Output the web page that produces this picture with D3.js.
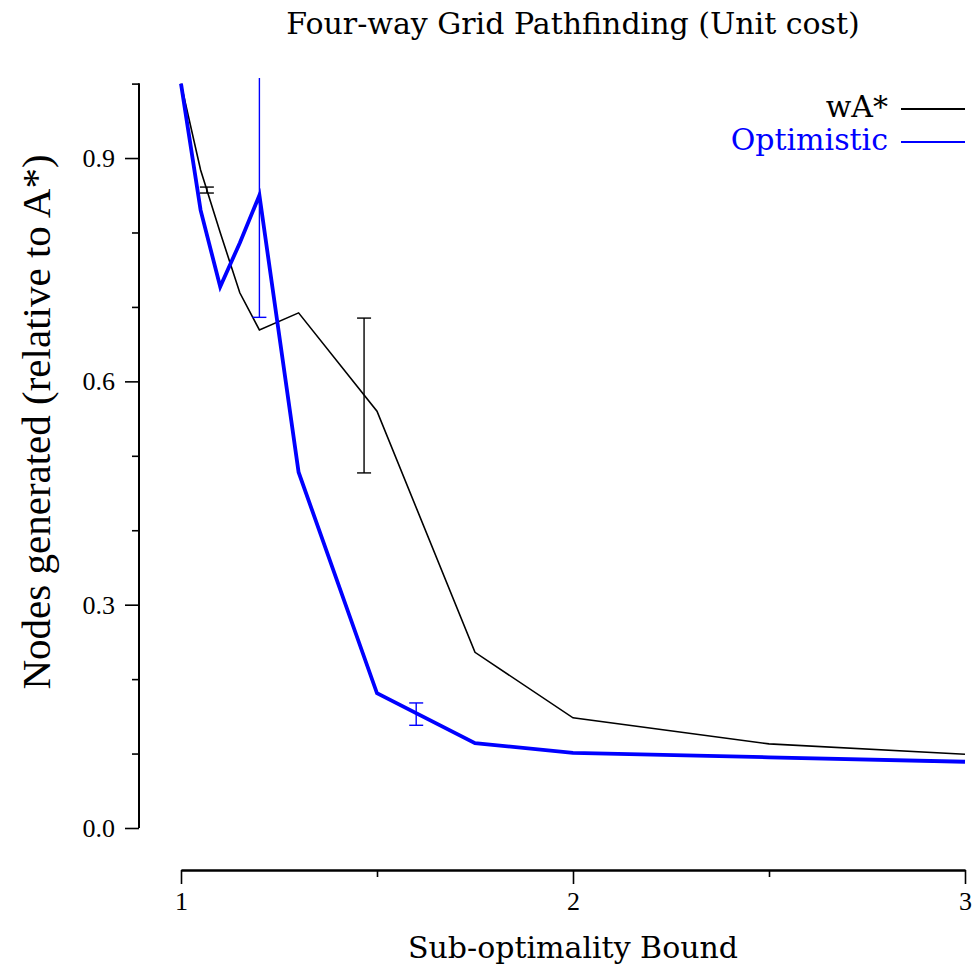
<!DOCTYPE html>
<html><head><meta charset="utf-8">
<script src="https://cdn.jsdelivr.net/npm/d3@7"></script>
<style>body{margin:0;background:#fff}svg{display:block}</style>
</head><body>
<script>
const title = "Four-way Grid Pathfinding (Unit cost)";
const xLabel = "Sub-optimality Bound";
const yLabel = "Nodes generated (relative to A*)";
const seriesNames = ["wA*", "Optimistic"];
const seriesColors = ["#000000", "#0000ff"];
const wastarX = [1.0, 1.05, 1.1, 1.15, 1.2, 1.3, 1.5, 1.75, 2.0, 2.5, 3.0];
const wastarY = [1.0, 0.884, 0.80, 0.719, 0.669, 0.692, 0.560, 0.236, 0.148, 0.113, 0.099];
const optX = [1.0, 1.05, 1.1, 1.15, 1.2, 1.3, 1.5, 1.75, 2.0, 2.5, 3.0];
const optY = [1.0, 0.830, 0.727, 0.786, 0.850, 0.478, 0.181, 0.114, 0.101, 0.095, 0.089];
const wastarErrX = [1.066, 1.467];
const wastarErrLo = [0.853, 0.477];
const wastarErrHi = [0.861, 0.685];
const optErrX = [1.2, 1.6];
const optErrLo = [0.686, 0.138];
const optErrHi = [1.014, 0.168];
const xTicks = [1, 2, 3];
const xMinorTicks = [1.5, 2.5];
const yTickLabels = [0.0, 0.3, 0.6, 0.9];
const yMinorTicks = [0.1, 0.2, 0.4, 0.5, 0.7, 0.8, 1.0];

const W = 975, H = 969;
const serif = "'Liberation Serif', serif";
const pal = "'DejaVu Serif', serif";
const svg = d3.select("body").append("svg").attr("width", W).attr("height", H);
const x = d3.scaleLinear().domain([1, 3]).range([181, 965]);
const y = d3.scaleLinear().domain([0, 1]).range([828, 83.6]);

svg.append("text").attr("x", 573).attr("y", 34).attr("text-anchor", "middle")
  .attr("font-family", pal).attr("font-size", 30).text(title);

// y axis
const yAxisX = 139;
const gy = svg.append("g").attr("transform", `translate(${yAxisX},0)`);
gy.call(d3.axisLeft(y).tickValues(yTickLabels).tickFormat(d3.format(".1f")).tickSize(14).tickSizeOuter(0).tickPadding(10));
gy.append("g").call(d3.axisLeft(y).tickValues(yMinorTicks).tickFormat("").tickSize(7).tickSizeOuter(0));
gy.selectAll(".domain").attr("stroke-width", 2);
gy.selectAll("line").attr("stroke-width", 1.6);
gy.selectAll("text").attr("font-family", serif).attr("font-size", 26).attr("fill", "#000");
gy.selectAll(".domain").attr("d", `M0,${y(1)}V${y(0)}`);

// x axis
const xAxisY = 870;
const gx = svg.append("g").attr("transform", `translate(0,${xAxisY})`);
gx.call(d3.axisBottom(x).tickValues(xTicks).tickFormat(d3.format("d")).tickSize(14).tickSizeOuter(0).tickPadding(8));
gx.append("g").call(d3.axisBottom(x).tickValues(xMinorTicks).tickFormat("").tickSize(7).tickSizeOuter(0));
gx.selectAll(".domain").attr("stroke-width", 2);
gx.selectAll("line").attr("stroke-width", 1.6);
gx.selectAll("text").attr("font-family", serif).attr("font-size", 26).attr("fill", "#000");

svg.append("text").attr("x", 573).attr("y", 958).attr("text-anchor", "middle")
  .attr("font-family", pal).attr("font-size", 30).text(xLabel);
svg.append("text").attr("transform", "translate(50,422) rotate(-90)").attr("text-anchor", "middle")
  .attr("font-family", serif).attr("font-size", 41).text(yLabel);

const clip = svg.append("defs").append("clipPath").attr("id", "c");
clip.append("rect").attr("x", 139).attr("y", 78).attr("width", 840).attr("height", 760);
const plot = svg.append("g").attr("clip-path", "url(#c)");
const line = d3.line().x(d => x(d[0])).y(d => y(d[1]));

plot.append("path").datum(d3.zip(wastarX, wastarY)).attr("d", line)
  .attr("fill", "none").attr("stroke", seriesColors[0]).attr("stroke-width", 1.6);
plot.append("path").datum(d3.zip(optX, optY)).attr("d", line)
  .attr("fill", "none").attr("stroke", seriesColors[1]).attr("stroke-width", 3.8);

function errBars(xs, lo, hi, color) {
  xs.forEach((xv, i) => {
    const g = plot.append("g").attr("stroke", color).attr("stroke-width", 1.4);
    g.append("line").attr("x1", x(xv)).attr("x2", x(xv)).attr("y1", y(lo[i])).attr("y2", y(hi[i]));
    g.append("line").attr("x1", x(xv) - 7).attr("x2", x(xv) + 7).attr("y1", y(lo[i])).attr("y2", y(lo[i]));
    g.append("line").attr("x1", x(xv) - 7).attr("x2", x(xv) + 7).attr("y1", y(hi[i])).attr("y2", y(hi[i]));
  });
}
errBars(wastarErrX, wastarErrLo, wastarErrHi, seriesColors[0]);
errBars(optErrX, optErrLo, optErrHi, seriesColors[1]);

// legend
seriesNames.forEach((n, i) => {
  const ly = 109 + i * 33;
  svg.append("text").attr("x", 888).attr("y", ly + 8).attr("text-anchor", "end")
    .attr("font-family", pal).attr("font-size", 30).attr("fill", seriesColors[i]).text(n);
  svg.append("line").attr("x1", 901).attr("x2", 965).attr("y1", ly).attr("y2", ly)
    .attr("stroke", seriesColors[i]).attr("stroke-width", 2);
});
</script>
</body></html>
